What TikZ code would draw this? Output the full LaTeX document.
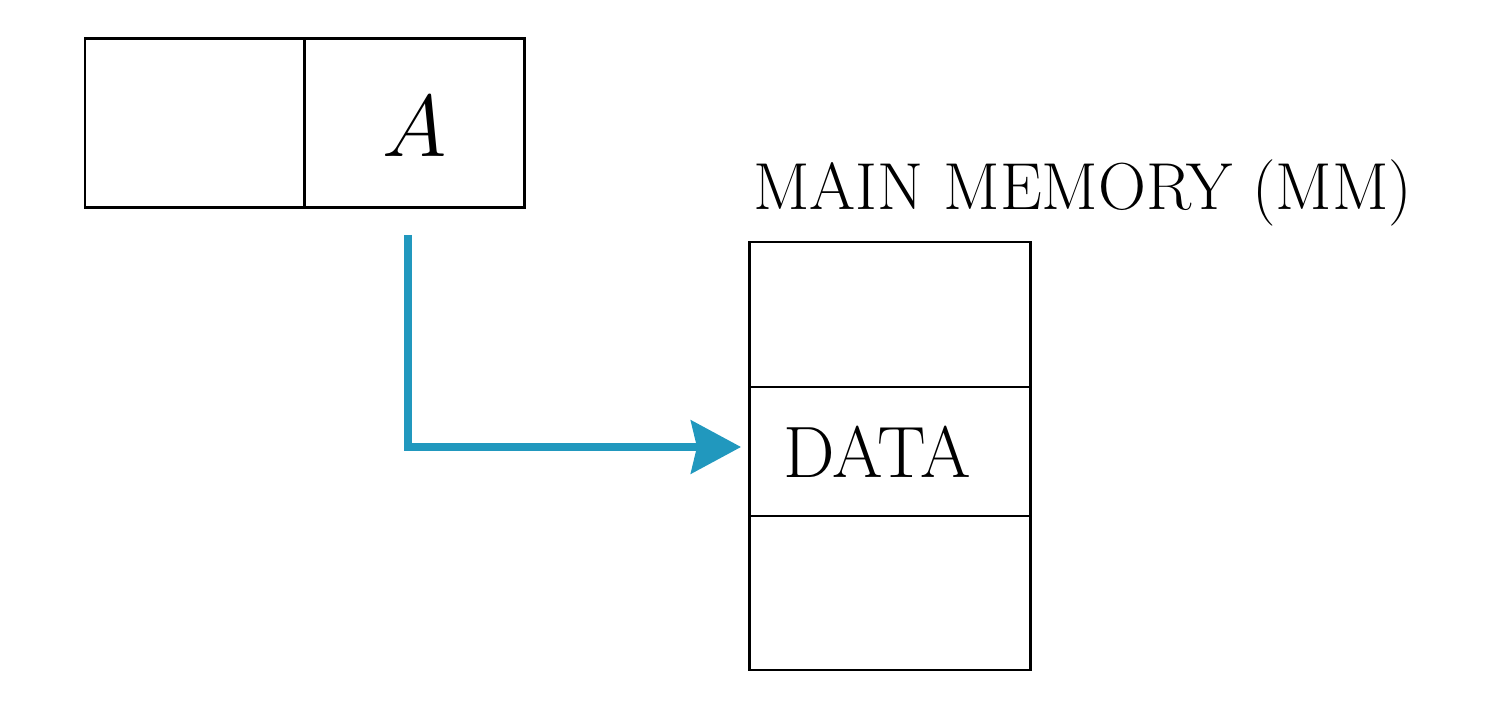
\documentclass[tikz,border=0pt]{standalone}
\usetikzlibrary{arrows.meta}
\definecolor{arrowblue}{RGB}{33,152,190}
\begin{document}
\begin{tikzpicture}[x=0.01cm,y=-0.01cm,
  cell/.style={draw=black,line width=0.85pt,inner sep=0pt,outer sep=0pt,rectangle},
  ptr/.style={draw=arrowblue,line width=2pt,
    -{Stealth[length=0.5cm,width=0.53cm,inset=0.06cm]}},
  lbl/.style={inner sep=0pt,outer sep=0pt}]
\useasboundingbox (0,0) rectangle (1489,704);
% register
\node[cell,minimum width=219*0.01cm,minimum height=169*0.01cm] (regL) at (194.5,123.5) {};
\node[cell,minimum width=220*0.01cm,minimum height=169*0.01cm] (regR) at (414,123.5) {};
\node[lbl,anchor=base] (A) at (415,157) {\fontsize{24}{28}\selectfont$A$};
% main memory
\node[lbl,anchor=base west] (mmlabel) at (753,210) {\fontsize{18.9}{22}\selectfont MAIN MEMORY (MM)};
\node[cell,minimum width=281*0.01cm,minimum height=145*0.01cm] (mem1) at (889.5,314.5) {};
\node[cell,minimum width=281*0.01cm,minimum height=129*0.01cm] (mem2) at (889.5,451.5) {};
\node[cell,minimum width=281*0.01cm,minimum height=154*0.01cm] (mem3) at (889.5,593) {};
\node[lbl,anchor=base west] (data) at (783,477) {\fontsize{20.7}{24}\selectfont DATA};
% pointer
\coordinate (s) at (408,235);
\coordinate (t) at (741,447);
\draw[ptr] (s) |- (t);
\end{tikzpicture}
\end{document}
